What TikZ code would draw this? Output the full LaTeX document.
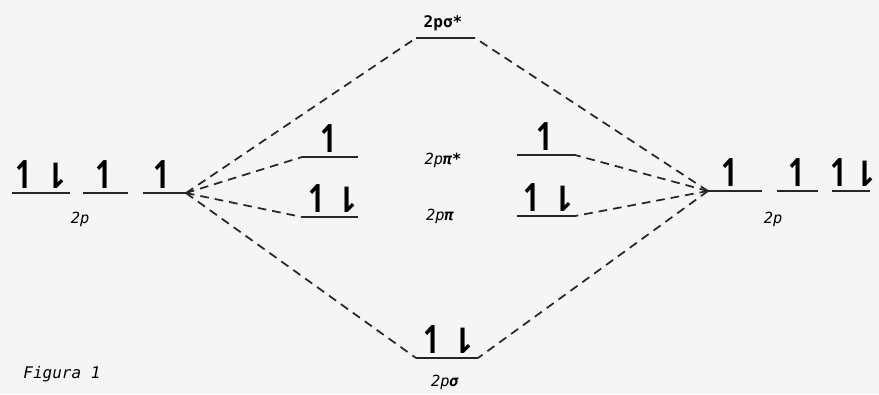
\documentclass[tikz,border=0pt]{standalone}
\usepackage{fontspec}
\setmainfont{Liberation Mono}
\newfontfamily\arrfont{DejaVu Sans}
\newfontfamily\lblfont{DejaVu Sans Mono}
\begin{document}
\begin{tikzpicture}[x=0.75pt,y=-0.75pt,
  level/.style={line width=1.1pt,black!85},
  conn/.style={line width=1.3pt,black!85,dash pattern=on 6.5pt off 4.5pt},
  up/.style={font=\arrfont\bfseries\fontsize{26}{26}\selectfont,anchor=base,inner sep=0pt,yscale=1.1},
  dn/.style={font=\arrfont\bfseries\fontsize{26}{26}\selectfont,anchor=base,inner sep=0pt},
  lbl/.style={font=\lblfont\itshape\fontsize{11.5}{13}\selectfont,inner sep=0pt},
  blbl/.style={font=\lblfont\bfseries\fontsize{12}{14}\selectfont,inner sep=0pt}]
\fill[gray!8] (0,0) rectangle (879,394);
\useasboundingbox (0,0) rectangle (879,394);
% left atomic levels
\coordinate (la1) at (12,193); \coordinate (lb1) at (70,193);
\coordinate (la2) at (83,193); \coordinate (lb2) at (128,193);
\coordinate (la3) at (143,193); \coordinate (lb3) at (186,193);
\draw[level] (la1)--(lb1); \draw[level] (la2)--(lb2); \draw[level] (la3)--(lb3);
\node[up] (lu1) at (25,188) {↿}; \node[dn] (ld1) at (56,188) {⇂};
\node[up] (lu2) at (105,188) {↿}; \node[up] (lu3) at (163,188) {↿};
\node[lbl] (l2p) at (80,219) {2p};
% right atomic levels
\coordinate (ra1) at (708,191); \coordinate (rb1) at (762,191);
\coordinate (ra2) at (777,191); \coordinate (rb2) at (818,191);
\coordinate (ra3) at (832,191); \coordinate (rb3) at (870,191);
\draw[level] (ra1)--(rb1); \draw[level] (ra2)--(rb2); \draw[level] (ra3)--(rb3);
\node[up] (ru1) at (731,186) {↿}; \node[up] (ru2) at (798,186) {↿};
\node[up] (ru3) at (840,186) {↿}; \node[dn] (rd3) at (865,186) {⇂};
\node[lbl] (r2p) at (773,219) {2p};
% sigma*
\coordinate (ssa) at (416,38); \coordinate (ssb) at (475,38);
\draw[level] (ssa)--(ssb);
\node[blbl] (ssl) at (443,23) {2pσ*};
% pi*
\coordinate (pla) at (302,157); \coordinate (plb) at (358,157);
\coordinate (pra) at (517,155); \coordinate (prb) at (575,155);
\draw[level] (pla)--(plb); \draw[level] (pra)--(prb);
\node[up] (pu1) at (330,152) {↿}; \node[up] (pu2) at (546,150) {↿};
\node[lbl] (psl) at (443,160) {2p\textbf{π*}};
% pi
\coordinate (qla) at (302,217); \coordinate (qlb) at (358,217);
\coordinate (qra) at (517,216); \coordinate (qrb) at (575,216);
\draw[level] (qla)--(qlb); \draw[level] (qra)--(qrb);
\node[up] (qu1) at (318,212) {↿}; \node[dn] (qd1) at (347,212) {⇂};
\node[up] (qu2) at (533,211) {↿}; \node[dn] (qd2) at (563,211) {⇂};
\node[lbl] (pl) at (440,216) {2p\textbf{π}};
% sigma
\coordinate (sa) at (416,358); \coordinate (sb) at (478,358);
\draw[level] (sa)--(sb);
\node[up] (su) at (433,353) {↿}; \node[dn] (sd) at (463,353) {⇂};
\node[lbl] (sl) at (445,382) {2p\textbf{σ}};
% connectors
\draw[conn] (lb3)--(ssa); \draw[conn] (lb3)--(pla);
\draw[conn] (lb3)--(qla); \draw[conn] (lb3)--(sa);
\draw[conn] (ra1)--(ssb); \draw[conn] (ra1)--(prb);
\draw[conn] (ra1)--(qrb); \draw[conn] (ra1)--(sb);
\node[lbl,font=\lblfont\itshape\fontsize{12}{14}\selectfont] (fig) at (62,374) {Figura 1};
\end{tikzpicture}
\end{document}
